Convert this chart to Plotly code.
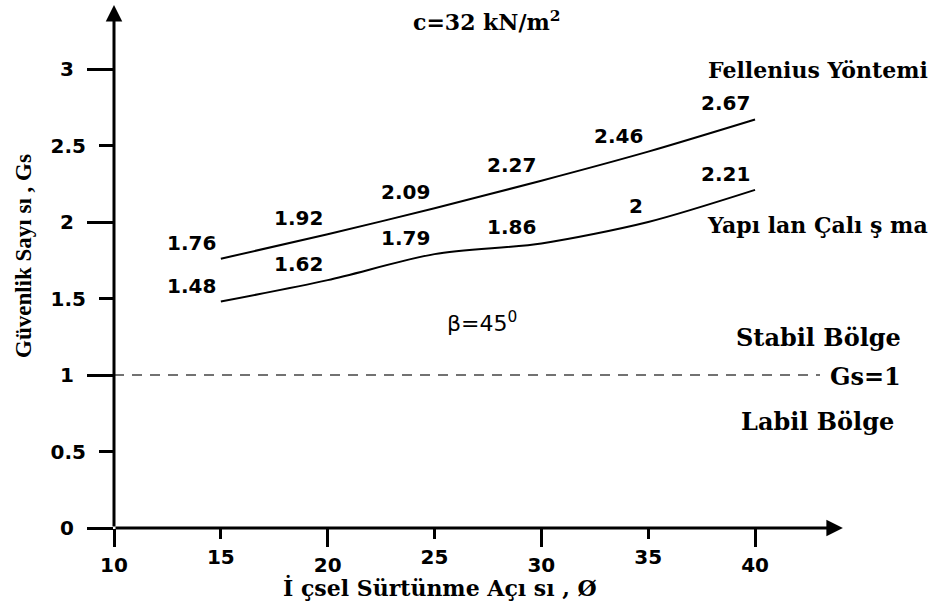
import plotly.graph_objects as go

# Internal friction angle (degrees)
friction_angle = [15, 20, 25, 30, 35, 40]
# Safety factor, Fellenius method
fellenius = [1.76, 1.92, 2.09, 2.27, 2.46, 2.67]
# Safety factor, present study
present_study = [1.48, 1.62, 1.79, 1.86, 2.00, 2.21]

major_x_ticks = [10, 20, 30, 40]
minor_x_ticks = [15, 25, 35]
major_y_ticks = [0, 1, 2, 3]
minor_y_ticks = [0.5, 1.5, 2.5]

X_RANGE = [10, 48]
Y_RANGE = [0, 3.451]
X_TIP = 44.11
Y_TIP = 3.418

SANS = "DejaVu Sans"
SERIF_WIDE = "DejaVu Serif"
SERIF = "Liberation Serif"

fig = go.Figure()

for ys in (fellenius, present_study):
    fig.add_trace(go.Scatter(
        x=friction_angle, y=ys, mode="lines",
        line=dict(color="black", width=2, shape="spline", smoothing=0.8),
        hoverinfo="skip", showlegend=False,
    ))

# invisible trace so the overlay axes (half-step ticks) get drawn
fig.add_trace(go.Scatter(x=[10], y=[0], xaxis="x2", yaxis="y2", mode="markers",
                         marker=dict(opacity=0), showlegend=False, hoverinfo="skip"))

# value labels above-left of each point
for ys in (fellenius, present_study):
    for x, v in zip(friction_angle, ys):
        fig.add_annotation(
            x=x, y=v, text=f"{v:g}", showarrow=False,
            xanchor="right", yanchor="bottom", xshift=-3, yshift=2,
            font=dict(family=SANS, size=20, color="black", weight="bold"),
        )

# safety factor = 1 boundary
fig.add_shape(type="line", x0=10, x1=43.04, y0=1, y1=1,
              line=dict(color="#444444", width=1.5, dash="10px,8px"))

# axis lines with arrow heads
fig.add_annotation(x=X_TIP, y=0, ax=10, ay=0, axref="x", ayref="y",
                   showarrow=True, arrowhead=2, arrowsize=1.1, arrowwidth=3,
                   arrowcolor="black", text="", standoff=0)
fig.add_annotation(x=10, y=Y_TIP, ax=10, ay=0, axref="x", ayref="y",
                   showarrow=True, arrowhead=2, arrowsize=1.1, arrowwidth=3,
                   arrowcolor="black", text="", standoff=0)

def label(x, y, text, size=22, family=SERIF_WIDE, weight="bold"):
    fig.add_annotation(x=x, y=y, text=text, showarrow=False,
                       xanchor="center", yanchor="middle",
                       font=dict(family=family, size=size, color="black", weight=weight))

label(27.45, 3.314, "c=32 kN/m<sup>2</sup>", size=22)
label(42.94, 2.993, "Fellenius Yöntemi", size=22)
label(42.9, 1.98, "Yapı lan Çalı ş ma", size=22)
label(27.22, 1.346, "β=45<sup>0</sup>", size=22, family=SANS, weight="normal")
label(42.99, 1.242, "Stabil Bölge", size=24)
label(45.19, 0.993, "Gs=1", size=24)
label(42.94, 0.699, "Labil Bölge", size=24)

# axis titles
fig.add_annotation(x=25.26, y=-0.1136, yref="paper", text="İ çsel Sürtünme Açı sı , Ø",
                   showarrow=False, xanchor="center", yanchor="middle",
                   font=dict(family=SERIF_WIDE, size=22, color="black", weight="bold"))
fig.add_annotation(x=-0.1108, xref="paper", y=1.778, text="Güvenlik Sayı sı , Gs",
                   textangle=-90, showarrow=False, xanchor="center", yanchor="middle",
                   font=dict(family=SERIF, size=23, color="black", weight="bold"))

tickfont = dict(family=SANS, size=20, color="black", weight="bold")
common = dict(showgrid=False, zeroline=False, showline=False, ticks="outside",
              tickwidth=3, tickcolor="black", tickfont=tickfont, tickmode="array")

fig.update_layout(
    width=940, height=612,
    margin=dict(l=114, r=14, t=0, b=84),
    paper_bgcolor="white", plot_bgcolor="white",
    xaxis=dict(range=X_RANGE, tickvals=major_x_ticks, ticklen=18,
               ticklabelstandoff=1, **common),
    xaxis2=dict(range=X_RANGE, tickvals=minor_x_ticks, ticklen=10,
                overlaying="x", anchor="y", side="bottom",
                ticklabelstandoff=1, **common),
    yaxis=dict(range=Y_RANGE, tickvals=major_y_ticks, ticklen=26,
               ticklabelstandoff=9, **common),
    yaxis2=dict(range=Y_RANGE, tickvals=minor_y_ticks, ticklen=14,
                overlaying="y", anchor="x", side="left",
                ticklabelstandoff=9, **common),
    showlegend=False,
)

fig.write_html("out.html")
